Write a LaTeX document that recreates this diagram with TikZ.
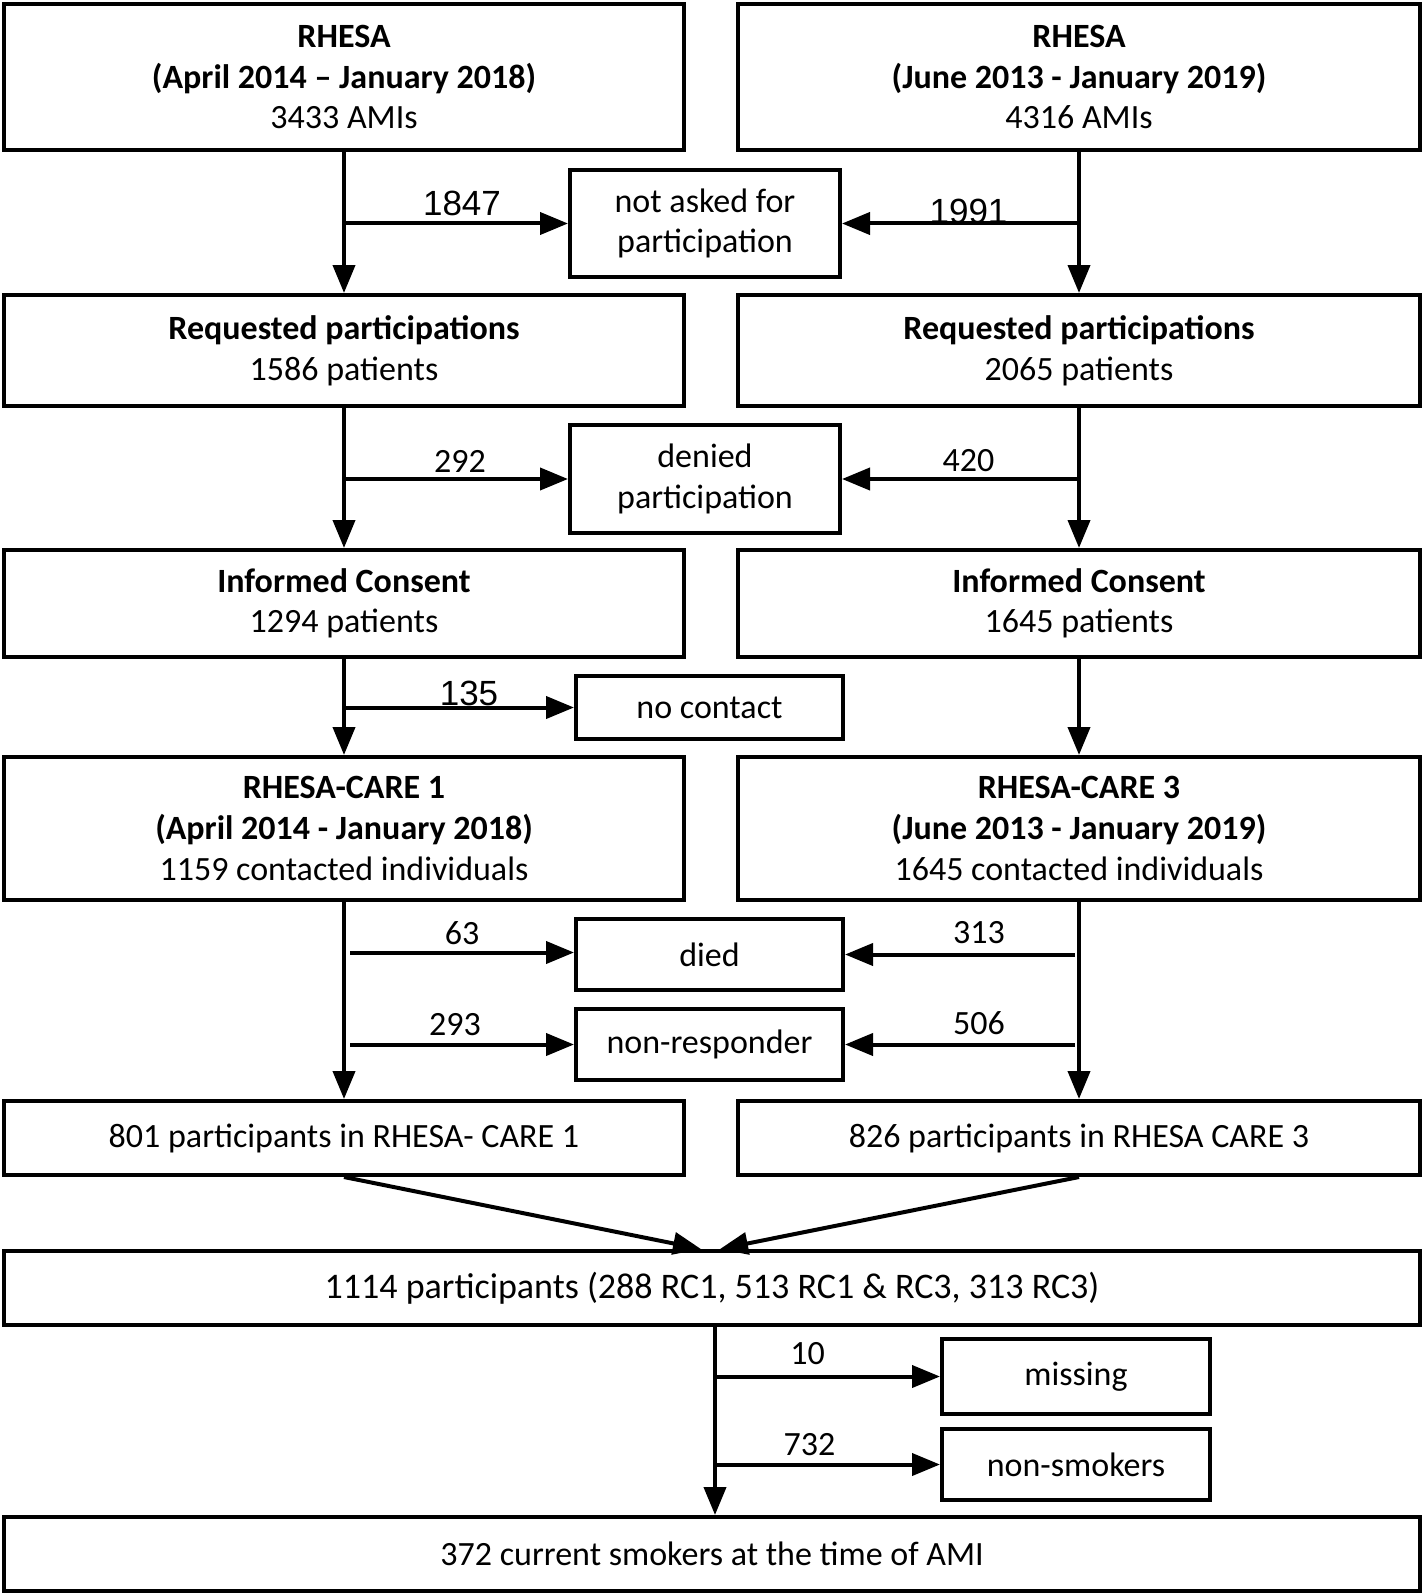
\documentclass[tikz,border=0pt]{standalone}
\usepackage{fontspec}
\setmainfont{Carlito}
\newfontfamily\arialf{Liberation Sans}
\usetikzlibrary{arrows.meta,calc}
\begin{document}
\begin{tikzpicture}[x=0.5pt,y=-0.5pt,
  box/.style={draw, line width=2pt, rectangle, inner sep=0pt, align=center,
    font=\fontsize{17}{20.3}\selectfont},
  sz/.style 2 args={minimum width=#1*0.5pt, minimum height=#2*0.5pt},
  arr/.style={line width=2pt, -{Triangle[length=14pt,width=11pt]}},
  lbl/.style={font=\fontsize{17}{20}\selectfont, inner sep=0pt},
  albl/.style={font=\arialf\fontsize{17.5}{20}\selectfont, inner sep=0pt}]
\useasboundingbox (0,0) rectangle (1423,1594);
\fill[white] (0,0) rectangle (1423,1594);

% boxes
\node[box, sz={680}{146}] (tl) at (344,77) {\textbf{RHESA}\\\textbf{(April 2014 – January 2018)}\\3433 AMIs};
\node[box, sz={682}{146}] (tr) at (1079,77) {\textbf{RHESA}\\\textbf{(June 2013 - January 2019)}\\4316 AMIs};
\node[box, sz={270}{107}] (na) at (705,223.5) {not asked for\\participation};
\node[box, sz={680}{111}] (rl) at (344,350.5) {\textbf{Requested participations}\\1586 patients};
\node[box, sz={682}{111}] (rr) at (1079,350.5) {\textbf{Requested participations}\\2065 patients};
\node[box, sz={270}{108}] (den) at (705,479) {denied\\participation};
\node[box, sz={680}{107}] (il) at (344,603.5) {\textbf{Informed Consent}\\1294 patients};
\node[box, sz={682}{107}] (ir) at (1079,603.5) {\textbf{Informed Consent}\\1645 patients};
\node[box, sz={267}{63}] (nc) at (709.5,707.5) {no contact};
\node[box, sz={680}{143}] (rc1) at (344,828.5) {\textbf{RHESA-CARE 1}\\\textbf{(April 2014 - January 2018)}\\1159 contacted individuals};
\node[box, sz={682}{143}] (rc3) at (1079,828.5) {\textbf{RHESA-CARE 3}\\\textbf{(June 2013 - January 2019)}\\1645 contacted individuals};
\node[box, sz={267}{71}] (died) at (709.5,954.5) {died};
\node[box, sz={267}{71}] (nr) at (709.5,1044.5) {non-responder};
\node[box, sz={680}{74}] (p801) at (344,1138) {801 participants in RHESA- CARE 1};
\node[box, sz={682}{74}] (p826) at (1079,1138) {826 participants in RHESA CARE 3};
\node[box, sz={1416}{74}, font=\fontsize{18}{21}\selectfont] (p1114) at (712,1288) {1114 participants (288 RC1, 513 RC1 \& RC3, 313 RC3)};
\node[box, sz={268}{75}] (miss) at (1076,1376.5) {missing};
\node[box, sz={268}{71}] (ns) at (1076,1464.5) {non-smokers};
\node[box, sz={1416}{74}] (p372) at (712,1554) {372 current smokers at the time of AMI};

% main flow
\draw[arr] (tl) -- (rl);
\draw[arr] (tr) -- (rr);
\draw[arr] (rl) -- (il);
\draw[arr] (rr) -- (ir);
\draw[arr] (il) -- (rc1);
\draw[arr] (ir) -- (rc3);
\draw[arr] (rc1) -- (p801);
\draw[arr] (rc3) -- (p826);
\draw[arr] (p801.south) -- ([xshift=-5.5pt]p1114.north);
\draw[arr] (p826.south) -- ([xshift=4pt]p1114.north);
\coordinate (bv) at ([xshift=1.5pt]p1114.south);
\draw[arr] (bv) -- (bv |- p372.north);

% side arrows
\draw[arr] (na.west -| tl.south) -- (na.west) node[midway, above=3pt, xshift=3pt, albl] {1847};
\draw[arr] (na.east -| tr.south) -- (na.east) node[midway, above=-1pt, xshift=4pt, albl] {1991};
\draw[arr] (den.west -| rl.south) -- (den.west) node[midway, above=2.5pt, xshift=2pt, lbl] {292};
\draw[arr] (den.east -| rr.south) -- (den.east) node[midway, above=2.5pt, xshift=4pt, lbl] {420};
\draw[arr] (nc.west -| il.south) -- (nc.west) node[midway, above=0pt, xshift=5pt, albl] {135};
\draw[arr] ($(died.west -| rc1.south)+(6,-2)$) -- ($(died.west)+(0,-2)$) node[midway, above=3pt, lbl] {63};
\draw[arr] ($(died.east -| rc3.south)+(-4,0)$) -- (died.east) node[midway, above=4.5pt, xshift=9.5pt, lbl] {313};
\draw[arr] ($(nr.west -| rc1.south)+(6,0)$) -- (nr.west) node[midway, above=3.5pt, xshift=-3.5pt, lbl] {293};
\draw[arr] ($(nr.east -| rc3.south)+(-4,0)$) -- (nr.east) node[midway, above=4pt, xshift=9.5pt, lbl] {506};
\draw[arr] (miss.west -| bv) -- (miss.west) node[midway, above=5pt, xshift=-10pt, lbl] {10};
\draw[arr] (ns.west -| bv) -- (ns.west) node[midway, above=3.5pt, xshift=-9pt, lbl] {732};
\end{tikzpicture}
\end{document}
